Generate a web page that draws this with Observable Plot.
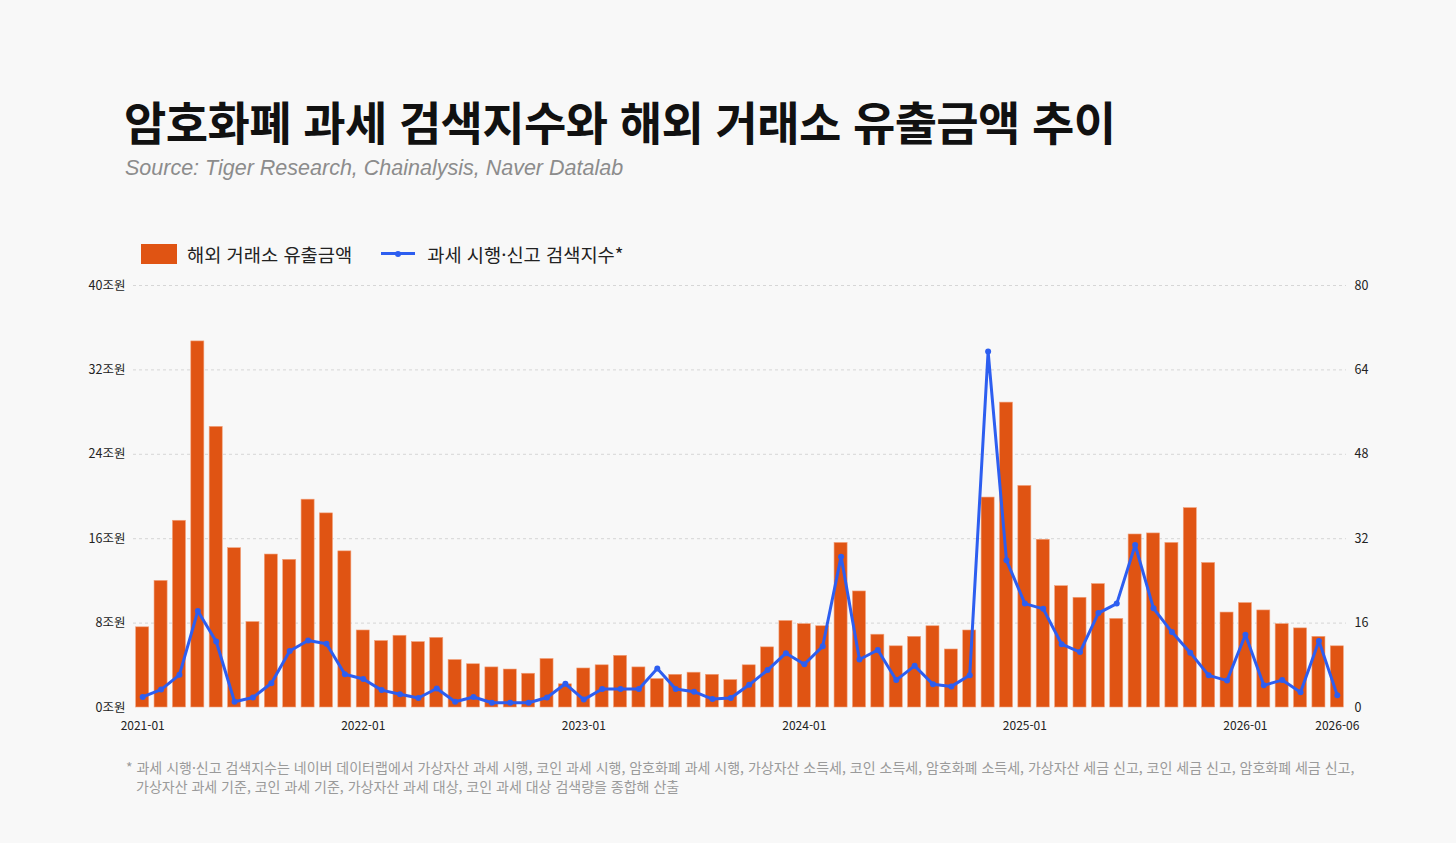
<!DOCTYPE html>
<html lang="ko">
<head>
<meta charset="utf-8">
<script src="https://cdn.jsdelivr.net/npm/d3@7"></script>
<script src="https://cdn.jsdelivr.net/npm/@observablehq/plot@0.6"></script>
<style>
  html, body { margin: 0; padding: 0; background: #f8f8f8; }
  #page { position: relative; width: 1456px; height: 843px; overflow: hidden; background: #f8f8f8; font-family: "Noto Sans CJK KR", "Noto Sans", sans-serif; }
  #title { position: absolute; left: 124px; top: 92px; font-size: 46px; line-height: 56px; font-weight: 700; color: #111; letter-spacing: -0.6px; white-space: nowrap; }
  #subtitle { position: absolute; left: 125px; top: 155px; font-family: "Liberation Sans", Arial, sans-serif; font-style: italic; font-size: 21.5px; line-height: 26px; color: #8c8c8c; white-space: nowrap; }
  #legend { position: absolute; left: 141px; top: 240px; display: flex; align-items: center; font-size: 18.7px; color: #222; white-space: nowrap; }
  .sw { display: inline-block; width: 36px; height: 20px; background: #e05413; margin-right: 10px; }
  .ln { position: relative; display: inline-block; width: 34px; height: 20px; margin-left: 29px; margin-right: 12px; }
  .ln::before { content: ""; position: absolute; left: 0; right: 0; top: 8.5px; height: 3px; background: #2d5ef0; }
  .ln::after { content: ""; position: absolute; left: 14px; top: 7px; width: 6px; height: 6px; border-radius: 3px; background: #2d5ef0; }
  #chart { position: absolute; left: 0; top: 275px; }
  #note { position: absolute; left: 126px; top: 758px; font-size: 14px; line-height: 19px; color: #9a9a9a; white-space: nowrap; }
  #note .l2 { padding-left: 10px; }
</style>
</head>
<body>
<div id="page">
  <div id="title">암호화폐 과세 검색지수와 해외 거래소 유출금액 추이</div>
  <div id="subtitle">Source: Tiger Research, Chainalysis, Naver Datalab</div>
  <div id="legend"><span class="sw"></span><span>해외 거래소 유출금액</span><span class="ln"></span><span>과세 시행·신고 검색지수*</span></div>
  <div id="chart"></div>
  <div id="note">* 과세 시행·신고 검색지수는 네이버 데이터랩에서 가상자산 과세 시행, 코인 과세 시행, 암호화폐 과세 시행, 가상자산 소득세, 코인 소득세, 암호화폐 소득세, 가상자산 세금 신고, 코인 세금 신고, 암호화폐 세금 신고,<br><span class="l2">가상자산 과세 기준, 코인 과세 기준, 가상자산 과세 대상, 코인 과세 대상 검색량을 종합해 산출</span></div>
</div>
<script>
const months = [
  "2021-01","2021-02","2021-03","2021-04","2021-05","2021-06","2021-07","2021-08","2021-09","2021-10","2021-11","2021-12",
  "2022-01","2022-02","2022-03","2022-04","2022-05","2022-06","2022-07","2022-08","2022-09","2022-10","2022-11","2022-12",
  "2023-01","2023-02","2023-03","2023-04","2023-05","2023-06","2023-07","2023-08","2023-09","2023-10","2023-11","2023-12",
  "2024-01","2024-02","2024-03","2024-04","2024-05","2024-06","2024-07","2024-08","2024-09","2024-10","2024-11","2024-12",
  "2025-01","2025-02","2025-03","2025-04","2025-05","2025-06","2025-07","2025-08","2025-09","2025-10","2025-11","2025-12",
  "2026-01","2026-02","2026-03","2026-04","2026-05","2026-06"
];
// 해외 거래소 유출금액 (조원)
const outflow = [
  7.6, 12.0, 17.7, 34.7, 26.6, 15.1, 8.1, 14.5, 14.0, 19.7, 18.4, 14.8,
  7.3, 6.3, 6.8, 6.2, 6.6, 4.5, 4.1, 3.8, 3.6, 3.2, 4.6, 2.2,
  3.7, 4.0, 4.9, 3.8, 2.7, 3.1, 3.3, 3.1, 2.6, 4.0, 5.7, 8.2,
  7.9, 7.7, 15.6, 11.0, 6.9, 5.8, 6.7, 7.7, 5.5, 7.3, 19.9, 28.9,
  21.0, 15.9, 11.5, 10.4, 11.7, 8.4, 16.4, 16.5, 15.6, 18.9, 13.7, 9.0,
  9.9, 9.2, 7.9, 7.5, 6.7, 5.8
];
// 과세 시행·신고 검색지수 (right axis, 0–80)
const searchIndex = [
  2.0, 3.4, 6.2, 18.3, 12.5, 1.1, 1.9, 4.6, 10.7, 12.7, 12.1, 6.3,
  5.4, 3.3, 2.5, 1.8, 3.6, 1.1, 2.0, 0.9, 0.9, 0.9, 1.9, 4.5,
  1.5, 3.5, 3.5, 3.5, 7.4, 3.5, 3.0, 1.6, 1.8, 4.3, 7.1, 10.3,
  8.2, 11.6, 28.6, 9.1, 10.9, 5.2, 7.9, 4.4, 4.0, 6.1, 67.5, 27.9,
  19.7, 18.7, 12.0, 10.5, 17.9, 19.7, 30.8, 18.8, 14.3, 10.4, 6.1, 5.1,
  13.8, 4.2, 5.2, 2.9, 12.6, 2.3
];
const leftTicks = [0, 8, 16, 24, 32, 40];      // 조원
const rightTicks = [0, 16, 32, 48, 64, 80];    // 검색지수
const xTickLabels = ["2021-01", "2022-01", "2023-01", "2024-01", "2025-01", "2026-01", "2026-06"];

const ratio = rightTicks[rightTicks.length - 1] / leftTicks[leftTicks.length - 1];
const data = months.map((m, i) => ({month: m, outflow: outflow[i], search: searchIndex[i]}));

const BAR = "#e05413";
const LINE = "#2d5ef0";

const chart = Plot.plot({
  width: 1456,
  height: 460,
  marginTop: 10,
  marginBottom: 28,
  marginLeft: 133,
  marginRight: 110,
  style: {background: "transparent", fontFamily: "'Noto Sans CJK KR', 'Noto Sans', sans-serif", fontSize: "12.5px", color: "#222"},
  x: {type: "band", domain: months, paddingInner: 0.29, paddingOuter: 0.145, round: false, label: null, axis: null},
  y: {domain: [0, 40], label: null, axis: null},
  marks: [
    Plot.ruleY(leftTicks.filter(d => d > 0), {stroke: "#d6d6d6", strokeDasharray: "3,3", strokeWidth: 1}),
    Plot.barY(data, {x: "month", y: "outflow", fill: BAR, stroke: "#f2a27c", strokeWidth: 0.6}),
    Plot.line(data, {x: "month", y: d => d.search / ratio, stroke: LINE, strokeWidth: 3, strokeLinejoin: "round"}),
    Plot.dot(data, {x: "month", y: d => d.search / ratio, fill: LINE, r: 3}),
    Plot.axisY(leftTicks, {anchor: "left", tickSize: 0, tickPadding: 8, tickFormat: d => d + "조원", label: null}),
    Plot.axisY(leftTicks, {anchor: "right", tickSize: 0, tickPadding: 8, tickFormat: d => String(d * ratio), label: null}),
    Plot.axisX(xTickLabels, {anchor: "bottom", tickSize: 0, tickPadding: 14, fontSize: 12, label: null})
  ]
});
document.getElementById("chart").appendChild(chart);
</script>
</body>
</html>
